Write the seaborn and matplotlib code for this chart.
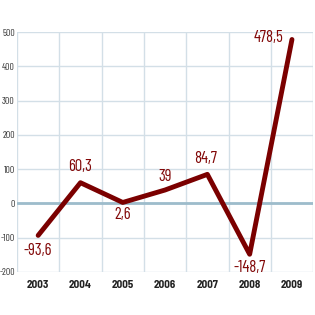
import pandas as pd
import seaborn as sns
import matplotlib.pyplot as plt

# data
years = ['2003', '2004', '2005', '2006', '2007', '2008', '2009']
values = [-93.6, 60.3, 2.6, 39, 84.7, -148.7, 478.5]
labels = ['-93,6', '60,3', '2,6', '39', '84,7', '-148,7', '478,5']
yticks = [-200, -100, 0, 100, 200, 300, 400, 500]

sns.set_theme(style='white')
plt.rcParams['font.family'] = ['Barlow Semi Condensed', 'DejaVu Sans']

df = pd.DataFrame({'year': years, 'value': values})

fig = plt.figure(figsize=(3.15, 3.15), dpi=100)
ax = fig.add_axes([0.054, 0.137, 0.94, 0.761])

grid_c = '#d3dfe7'
for x in [i + 0.5 for i in range(-1, 7)]:
    ax.axvline(x, color=grid_c, lw=1, zorder=0)
for y in yticks:
    ax.axhline(y, color=grid_c, lw=1, zorder=0)
ax.axhline(0, color='#9dbccb', lw=2, zorder=1)

sns.lineplot(data=df, x='year', y='value', color='#7b0000', lw=3.5, ax=ax,
             sort=False)

# label offsets (points): above / below / left
offsets = [(0, -11), (0, 11.5), (0, -9), (0, 10), (-1, 11.5), (0, -9.5), (-17, 1.4)]
for i, (v, t, off) in enumerate(zip(values, labels, offsets)):
    ax.annotate(t, (i, v), xytext=off, textcoords='offset points',
                ha='center', va='center', color='#820808', fontsize=12,
                family=['Barlow Condensed', 'DejaVu Sans'])

ax.set_xlim(-0.5, 6.5)
ax.set_ylim(-200, 500)
ax.set_yticks(yticks)
ax.set_yticklabels([str(y) for y in yticks], fontsize=7, color='#333333',
                   family=['Barlow Condensed', 'DejaVu Sans'])
ax.set_xticks(range(7))
ax.set_xticklabels(years, fontsize=8, fontweight='bold', color='#222222')
ax.tick_params(length=0, pad=1.5)
ax.tick_params(axis='x', pad=6)
ax.set_xlabel('')
ax.set_ylabel('')
for s in ax.spines.values():
    s.set_visible(False)

fig.savefig('out.png', dpi=100)
